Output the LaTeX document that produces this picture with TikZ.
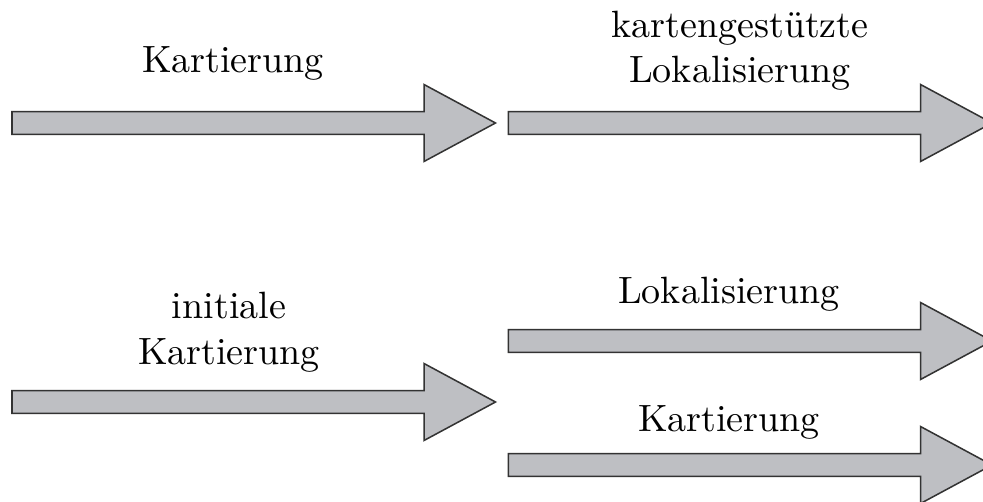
\documentclass[tikz,border=0pt]{standalone}
\usetikzlibrary{positioning}
\definecolor{arrowgray}{RGB}{190,191,195}
\tikzset{
  arrowbody/.style={draw=black!80, fill=arrowgray, line width=0.4pt},
  phase/.style={align=center, inner sep=0pt}
}

\begin{document}
\begin{tikzpicture}[x=0.263pt, y=-0.263pt]
  \useasboundingbox (0,0) rectangle (983,502);
  \clip (0,0) rectangle (983,502);
  % big block arrows: start x / tip x / centre y
  \foreach \xa/\xt/\yc in {12/495.5/123, 508.3/992/123, 12/495.5/402, 508.3/992/341, 508.3/992/465}
    \draw[arrowbody] (\xa,\yc-11.3) -- (\xt-71.5,\yc-11.3) -- (\xt-71.5,\yc-38.5) -- (\xt,\yc)
      -- (\xt-71.5,\yc+38.5) -- (\xt-71.5,\yc+11.3) -- (\xa,\yc+11.3) -- cycle;
  % labels
  \node[phase, anchor=base] (kart) at (233,72.7) {Kartierung};
  \node[phase] (lokal) at (740,50.8) {kartengestützte\\Lokalisierung};
  \node[phase] (init) at (229,332.5) {initiale\\Kartierung};
  \node[phase, anchor=base] (lok) at (729,303.3) {Lokalisierung};
  \node[phase, anchor=base] (kart2) at (729,431.7) {Kartierung};
\end{tikzpicture}
\end{document}
